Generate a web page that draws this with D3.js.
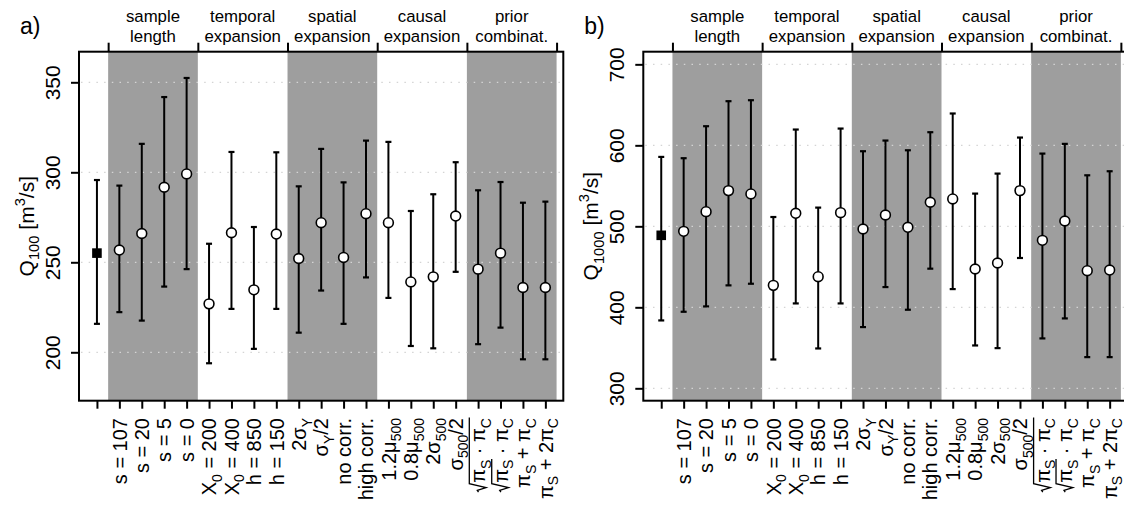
<!DOCTYPE html>
<html>
<head>
<meta charset="utf-8">
<script src="https://cdn.jsdelivr.net/npm/d3@7"></script>
<style>
  body { margin: 0; background: #fff; }
</style>
</head>
<body>
<script>
// x positions 1..21, first one (reference estimate) has no label
const positions = d3.range(1, 22);
const xLabels = ["", "s = 107", "s = 20", "s = 5", "s = 0",
    "X_{0} = 200", "X_{0} = 400", "h = 850", "h = 150",
    "2σ_{Y}", "σ_{Y}/2", "no corr.", "high corr.",
    "1.2μ_{500}", "0.8μ_{500}", "2σ_{500}", "σ_{500}/2",
    "√{π_{S} · π_{C}}", "√{π_{S}} · π_{C}", "π_{S} + π_{C}", "π_{S} + 2π_{C}"];

const groupLabels = [["sample", "length"], ["temporal", "expansion"], ["spatial", "expansion"],
    ["causal", "expansion"], ["prior", "combinat."]];
const groupBounds = [1.5, 5.5, 9.5, 13.5, 17.5, 21.5];
const groupShaded = [true, false, true, false, true];

// panel a: Q100
const q100Est = [255.1, 256.8, 266.0, 291.7, 299.1, 226.9, 266.4, 234.7, 265.7, 252.1, 272.0,
    252.7, 277.0, 272.0, 239.1, 241.9, 275.7, 246.2, 255.1, 236.0, 236.0];
const q100Lo = [215.8, 222.3, 217.6, 236.5, 246.2, 193.9, 224.1, 201.9, 224.1, 210.9, 234.3,
    215.8, 241.6, 230.2, 203.5, 202.2, 244.7, 204.5, 213.7, 196.1, 196.1];
const q100Hi = [295.7, 292.6, 315.8, 341.8, 352.4, 260.3, 311.3, 269.6, 311.1, 292.2, 313.0,
    294.4, 317.6, 316.9, 278.5, 287.8, 305.6, 290.0, 294.6, 283.1, 283.7];
const q100Ticks = [200, 250, 300, 350];

// panel b: Q1000
const q1000Est = [488.9, 493.8, 518.1, 544.1, 540.0, 427.1, 516.1, 437.8, 516.9, 496.7, 514.0,
    498.8, 529.7, 533.8, 447.3, 454.7, 544.1, 482.7, 506.6, 445.2, 446.0];
const q1000Lo = [383.8, 394.5, 401.1, 427.1, 429.1, 335.6, 404.8, 349.2, 404.8, 375.6, 425.0,
    397.0, 447.7, 422.5, 352.9, 349.6, 460.9, 361.6, 386.3, 338.5, 338.5];
const q1000Hi = [585.7, 584.1, 623.6, 654.5, 655.7, 511.5, 619.5, 523.1, 620.7, 592.7, 605.9,
    593.9, 616.2, 639.3, 540.4, 565.1, 609.6, 589.8, 601.8, 563.0, 568.0];
const q1000Ticks = [300, 400, 500, 600, 700];

const plotTop = 51.7, plotBottom = 400.7, plotW = 484.3;

const svg = d3.select("body").append("svg")
    .attr("width", 1124)
    .attr("height", 507)
    .style("font-family", "'Liberation Sans', Arial, Helvetica, sans-serif");

// tiny plotmath-ish text: _{sub}, ^{sup}, √{radicand}
function mathText(g, str, fs, anchor, baseY) {
    const segs = [];
    let radCount = 0;
    (function parse(s, ctx) {
        let buf = "", i = 0;
        const flush = () => { if (buf) segs.push({ t: buf, ...ctx }); buf = ""; };
        while (i < s.length) {
            const c = s[i];
            if ((c === "_" || c === "^" || c === "√") && s[i + 1] === "{") {
                flush();
                let depth = 1, j = i + 2;
                while (depth > 0) {
                    if (s[j] === "{") depth++;
                    else if (s[j] === "}") depth--;
                    j++;
                }
                const inner = s.slice(i + 2, j - 1);
                if (c === "√") {
                    const id = radCount++;
                    segs.push({ radStart: id, ...ctx });
                    parse(inner, { ...ctx, rads: ctx.rads.concat(id) });
                } else {
                    parse(inner, { ...ctx, script: c });
                }
                i = j;
            } else {
                buf += c;
                i++;
            }
        }
        flush();
    })(str, { script: null, rads: [] });

    let x = 0;
    segs.forEach(s => {
        if (s.radStart !== undefined) {
            s.x0 = x; s.x1 = x + fs * 0.5; x = s.x1;
            return;
        }
        const size = s.script ? fs * 0.7 : fs;
        const dy = s.script === "_" ? fs * 0.28 : s.script === "^" ? -fs * 0.42 : 0;
        s.el = g.append("text")
            .attr("y", baseY + dy)
            .attr("font-size", size)
            .style("white-space", "pre")
            .text(s.t);
        const w = s.el.node().getComputedTextLength();
        s.x0 = x; s.x1 = x + w; x += w;
    });
    const shift = anchor === "end" ? -x : anchor === "middle" ? -x / 2 : 0;
    segs.forEach(s => { if (s.el) s.el.attr("x", s.x0 + shift); });

    segs.filter(s => s.radStart !== undefined).forEach(r => {
        const end = d3.max(segs.filter(s => s.rads.includes(r.radStart)), s => s.x1) + shift;
        const x0 = r.x0 + shift, ty = baseY - fs * 0.8;
        g.append("path")
            .attr("d", `M${x0 + fs * 0.04},${baseY - fs * 0.34} L${x0 + fs * 0.12},${baseY - fs * 0.4} ` +
                `L${x0 + fs * 0.26},${baseY + fs * 0.04} L${x0 + fs * 0.46},${ty} L${end + fs * 0.03},${ty}`)
            .attr("fill", "none")
            .attr("stroke", "#000")
            .attr("stroke-width", fs * 0.065);
    });
}

function drawPanel(p) {
    const x = d3.scaleLinear().domain([0.2, 21.8]).range([p.left, p.left + plotW]);
    const y = d3.scaleLinear().domain(p.yDomain).range([plotBottom, plotTop]);
    const g = svg.append("g");

    // shaded groups
    g.selectAll(".band")
        .data(groupLabels.map((d, i) => ({ i, x0: groupBounds[i], x1: groupBounds[i + 1] })).filter(d => groupShaded[d.i]))
        .enter().append("rect")
        .attr("x", d => x(d.x0))
        .attr("y", plotTop)
        .attr("width", d => x(d.x1) - x(d.x0))
        .attr("height", plotBottom - plotTop)
        .attr("fill", "#9e9e9e");

    // dotted grid
    g.selectAll(".grid")
        .data(p.yTicks)
        .enter().append("line")
        .attr("x1", p.left + 2)
        .attr("x2", p.left + plotW)
        .attr("y1", d => y(d))
        .attr("y2", d => y(d))
        .attr("stroke", "#d4d4d4")
        .attr("stroke-width", 1.3)
        .attr("stroke-dasharray", "1.5 6.2");

    // box
    g.append("rect")
        .attr("x", p.left)
        .attr("y", plotTop)
        .attr("width", plotW)
        .attr("height", plotBottom - plotTop)
        .attr("fill", "none")
        .attr("stroke", "#000")
        .attr("stroke-width", 2);

    // left axis
    const yAxis = g.append("g")
        .attr("transform", `translate(${p.left},0)`)
        .call(d3.axisLeft(y).tickValues(p.yTicks).tickSize(8).tickSizeOuter(0));
    yAxis.select(".domain").remove();
    yAxis.selectAll("line").attr("stroke-width", 2);
    yAxis.selectAll("text")
        .attr("transform", "rotate(-90)")
        .attr("x", 0)
        .attr("y", -19.5)
        .attr("dy", 0)
        .attr("text-anchor", "middle")
        .attr("font-size", 21)
        .attr("font-family", null)
        .attr("fill", "#000");

    // bottom ticks
    const xAxis = g.append("g")
        .attr("transform", `translate(0,${plotBottom})`)
        .call(d3.axisBottom(x).tickValues(positions).tickSize(8).tickSizeOuter(0).tickFormat(""));
    xAxis.select(".domain").remove();
    xAxis.selectAll("line").attr("stroke-width", 2);

    // top ticks at group bounds
    const tAxis = g.append("g")
        .attr("transform", `translate(0,${plotTop})`)
        .call(d3.axisTop(x).tickValues(groupBounds).tickSize(9).tickSizeOuter(0).tickFormat(""));
    tAxis.select(".domain").remove();
    tAxis.selectAll("line").attr("stroke-width", 2);

    // x labels (rotated)
    positions.forEach((pos, i) => {
        if (!xLabels[i]) return;
        const lg = g.append("g").attr("transform", `translate(${x(pos)},418) rotate(-90)`);
        mathText(lg, xLabels[i], 20, "end", 7.2);
    });

    // group titles
    groupLabels.forEach((lines, i) => {
        const cx = x((groupBounds[i] + groupBounds[i + 1]) / 2);
        lines.forEach((t, k) => {
            g.append("text")
                .attr("x", cx)
                .attr("y", 21.7 + k * 20)
                .attr("text-anchor", "middle")
                .attr("font-size", 16.8)
                .text(t);
        });
    });

    // y title
    const tg = g.append("g").attr("transform", `translate(${p.left - 45.5},${(plotTop + plotBottom) / 2}) rotate(-90)`);
    mathText(tg, p.title, 21, "middle", 0);

    // panel letter
    g.append("text")
        .attr("x", p.left - 59)
        .attr("y", 34)
        .attr("font-size", 23)
        .text(p.letter);

    // error bars
    const bars = g.selectAll(".err")
        .data(positions.map((pos, i) => ({ pos, est: p.est[i], lo: p.lo[i], hi: p.hi[i], i })))
        .enter().append("g");
    bars.append("line")
        .attr("x1", d => x(d.pos)).attr("x2", d => x(d.pos))
        .attr("y1", d => y(d.lo)).attr("y2", d => y(d.hi))
        .attr("stroke", "#000").attr("stroke-width", 2);
    [d => d.lo, d => d.hi].forEach(f => {
        bars.append("line")
            .attr("x1", d => x(d.pos) - 3).attr("x2", d => x(d.pos) + 3)
            .attr("y1", d => y(f(d))).attr("y2", d => y(f(d)))
            .attr("stroke", "#000").attr("stroke-width", 2.2);
    });

    // first estimate: filled square, others open circles
    bars.filter(d => d.i === 0).append("rect")
        .attr("x", d => x(d.pos) - 4.8)
        .attr("y", d => y(d.est) - 4.8)
        .attr("width", 9.6)
        .attr("height", 9.6)
        .attr("fill", "#000");
    bars.filter(d => d.i > 0).append("circle")
        .attr("cx", d => x(d.pos))
        .attr("cy", d => y(d.est))
        .attr("r", 4.9)
        .attr("fill", "#fff")
        .attr("stroke", "#000")
        .attr("stroke-width", 1.6);
}

drawPanel({ letter: "a)", left: 79, yDomain: [173.1, 367], yTicks: q100Ticks,
    title: "Q_{100} [m^{3}/s]", est: q100Est, lo: q100Lo, hi: q100Hi });
drawPanel({ letter: "b)", left: 643.3, yDomain: [284.7, 715.6], yTicks: q1000Ticks,
    title: "Q_{1000} [m^{3}/s]", est: q1000Est, lo: q1000Lo, hi: q1000Hi });
</script>
</body>
</html>
